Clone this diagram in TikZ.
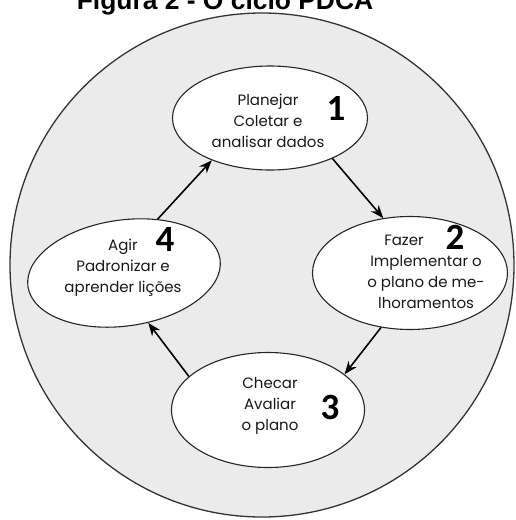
\documentclass[tikz,border=0pt]{standalone}
\usepackage{fontspec}
\setmainfont{Liberation Sans}
\newfontfamily\gothic{Poppins}
\newfontfamily\digits{Carlito}
\usetikzlibrary{shapes.geometric, arrows.meta, positioning}

\begin{document}
\begin{tikzpicture}[x=1pt, y=-1pt,
    stage/.style={ellipse, draw=black!85, line width=1.1pt, fill=white, inner sep=0pt},
    txt/.style={font=\gothic\fontsize{15}{20.8}\selectfont, align=center, text=black!90},
    num/.style={font=\digits\bfseries\fontsize{37}{37}\selectfont, inner sep=0pt},
    flow/.style={-{Stealth[length=13pt, width=10pt]}, line width=1.6pt}]
  \useasboundingbox (0,0) rectangle (516,520);
  \node[font=\bfseries\fontsize{26.4}{26}\selectfont, anchor=base] (title) at (225,9) {Figura 2 - O ciclo PDCA};
  \node[circle, draw=black!80, line width=1.3pt, fill=black!8, minimum size=504pt, inner sep=0pt] (cycle) at (262,265) {};

  % the four stages
  \node[stage, minimum width=195pt, minimum height=104pt] (P) at (270,118) {};
  \node[stage, minimum width=195pt, minimum height=113pt] (F) at (410,273) {};
  \node[stage, minimum width=193pt, minimum height=115pt] (C) at (268,410) {};
  \node[stage, minimum width=194pt, minimum height=106pt, rotate=8] (A) at (124,273) {};

  \node[txt] (Ptxt) at (268,121) {Planejar\\Coletar e\\analisar dados};
  \node[txt] (Ftxt) at (426,272) {Fazer\hspace*{44pt}\\Implementar o\\o plano de me-\\lhoramentos};
  \node[txt] (Ctxt) at (270,406) {Checar\\Avaliar\\o plano};
  \node[txt] (Atxt) at (123,268) {Agir\\Padronizar e\\aprender lições};

  \node[num] (n1) at (336,108) {1};
  \node[num] (n2) at (455,237) {2};
  \node[num] (n3) at (330,407) {3};
  \node[num] (n4) at (165,239) {4};

  \draw[flow] (P.-33) -- (F.116);
  \draw[flow] (F.-118) -- (C.25);
  \draw[flow] (C.157) -- (A.-72);
  \draw[flow] (A.50) -- (P.-144);
\end{tikzpicture}
\end{document}
